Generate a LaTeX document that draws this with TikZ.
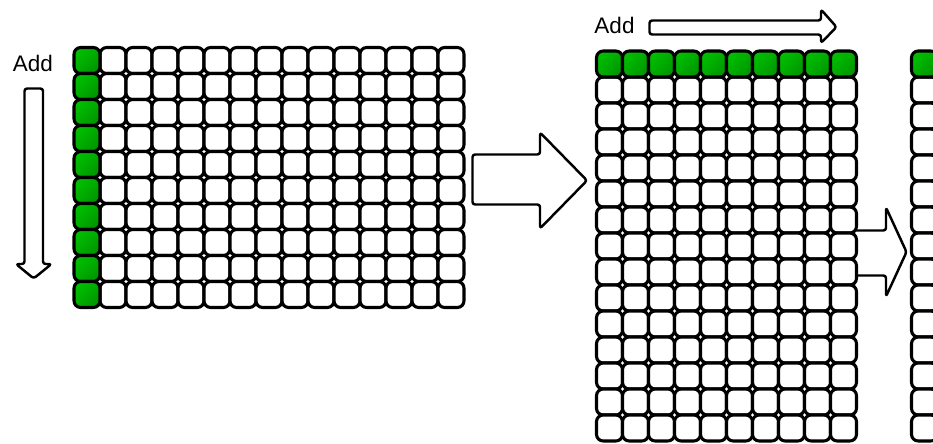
\documentclass[tikz,border=0pt]{standalone}
\usepackage{fontspec}
\setmainfont{Liberation Sans}
\usepackage{tikz}
\usetikzlibrary{positioning,shadings}
\usepackage{xcolor}
\definecolor{cellgreen}{RGB}{0,198,0}
\definecolor{cellgreenmid}{RGB}{0,172,0}
\definecolor{cellgreendark}{RGB}{0,140,0}
\tikzstyle{cell} = [rectangle, rounded corners=3.8pt, minimum size=0.52cm, inner sep=0pt, draw=black, fill=white, line width=1.75pt]
\tikzstyle{addcell} = [cell, upper left=cellgreen, upper right=cellgreenmid, lower left=cellgreenmid, lower right=cellgreendark]
\tikzstyle{blockarrow} = [draw=black, fill=white, line width=1.4pt, rounded corners=1.5pt, line join=round]
\tikzstyle{addtext} = [font=\fontsize{12.8}{15}\selectfont, inner sep=0pt]

\begin{document}
\begin{tikzpicture}[x=0.02cm, y=-0.02cm]
\useasboundingbox (0,0) rectangle (933,443);
\clip (0,0) rectangle (933,443);

% First grid: 15 x 10, left column added
\foreach \i in {1,...,14}
  \foreach \j in {0,...,9}
    \node[cell] (a-\i-\j) at ({87+26*\i},{60.5+26*\j}) {};
\foreach \j in {0,...,9}
  \node[addcell] (a-0-\j) at (87,{60.5+26*\j}) {};

% Downward add arrow
\node[addtext] (adddown) at (33,63) {Add};
\draw[blockarrow] (24.5,88.5) -- (43,88.5) -- (43,264) -- (51.5,264)
  -- (33.7,278.5) -- (16,264) -- (24.5,264) -- cycle;

% Big arrow between the grids
\draw[blockarrow] (472.5,154.5) -- (540,154.5) -- (540,132.5) -- (587,180.5)
  -- (540,228.5) -- (540,204.5) -- (472.5,204.5) -- cycle;

% Small arrow, tail hidden under the second grid
\draw[blockarrow] (850,230.5) -- (886,230.5) -- (886,207.5) -- (906.5,252)
  -- (886,296.5) -- (886,275.5) -- (850,275.5) -- cycle;

% Second grid: 10 x 15, top row added
\foreach \i in {0,...,9}
  \foreach \j in {1,...,14}
    \node[cell] (b-\i-\j) at ({609.5+26*\i},{64+26*\j}) {};
\foreach \i in {0,...,9}
  \node[addcell] (b-\i-0) at ({609.5+26*\i},64) {};

% Third grid, cut at the edge
\foreach \j in {1,...,14}
  \node[cell] (c-0-\j) at (924.5,{64+26*\j}) {};
\node[addcell] (c-0-0) at (924.5,64) {};

% Rightward add arrow
\node[addtext] (addright) at (614.5,25) {Add};
\draw[blockarrow] (649.5,20.5) -- (821,20.5) -- (821,9.5) -- (836.5,27)
  -- (821,43) -- (821,34.5) -- (649.5,34.5) -- cycle;
\end{tikzpicture}
\end{document}
